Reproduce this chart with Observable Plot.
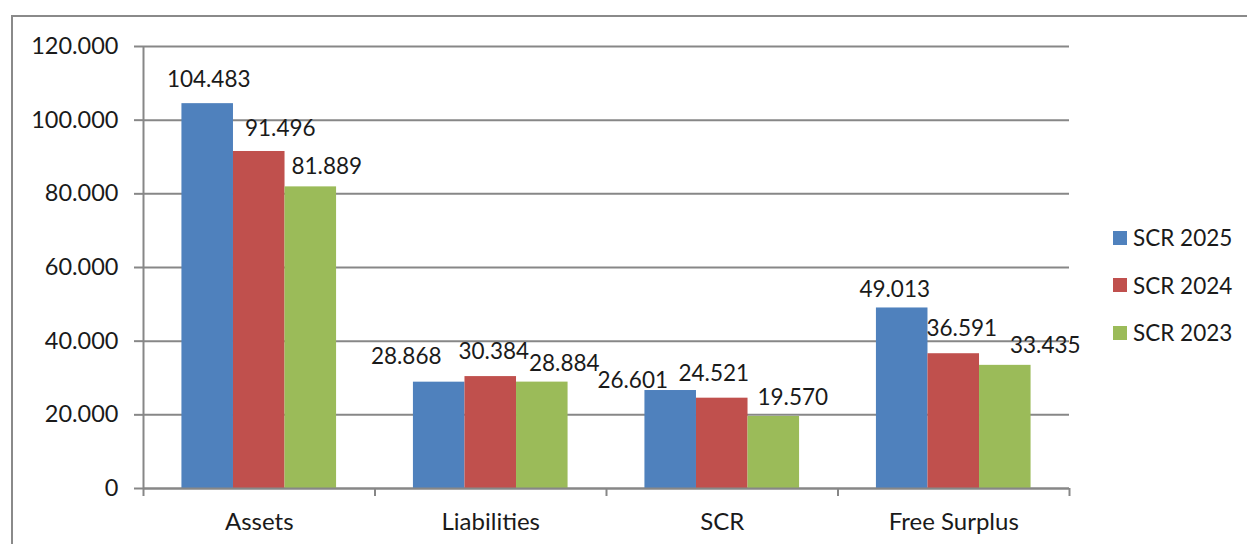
<!DOCTYPE html>
<html>
<head>
<meta charset="utf-8">
<script src="https://cdn.jsdelivr.net/npm/d3@7"></script>
<script src="https://cdn.jsdelivr.net/npm/@observablehq/plot@0.6"></script>
<style>
  html, body { margin: 0; padding: 0; background: #fff; overflow: hidden; }
  #wrap { position: relative; width: 1247px; height: 544px; font-family: Lato, sans-serif; }
  #border { position: absolute; left: 11px; top: 15px; width: 1300px; height: 700px; border: 2px solid #8a8a8a; box-sizing: border-box; }
  #chart { position: absolute; left: 0; top: 0; }
  #legend { position: absolute; left: 1113px; top: 214px; }
  .item { display: flex; align-items: center; height: 47.5px; font-size: 22.5px; color: #1a1a1a; }
  .sw { width: 14px; height: 14px; margin-right: 6px; }
</style>
</head>
<body>
<div id="wrap">
  <div id="border"></div>
  <div id="chart"></div>
  <div id="legend"></div>
</div>
<script>
// ---- data ----
const categories = ["Assets", "Liabilities", "SCR", "Free Surplus"];
const series = ["SCR 2025", "SCR 2024", "SCR 2023"];
const scr2025 = [104483, 28868, 26601, 49013];
const scr2024 = [91496, 30384, 24521, 36591];
const scr2023 = [81889, 28884, 19570, 33435];
const yTicks = [0, 20000, 40000, 60000, 80000, 100000, 120000];

// ---- style ----
const colors = ["#4F81BD", "#C0504D", "#9BBB59"];
const gridColor = "#878787";
const textColor = "#1a1a1a";
const groupPad = 0.166;                 // inner padding of each category band
const barW = (1 - 2 * groupPad) / 3;
// label nudges (pixels): [dx, gap above bar top]
const nudges = [
  [[1, 17], [-33, 18], [-38, 2.5], [-7.5, 11]],
  [[21, 15], [3, 18], [-8.5, 17], [8, 18]],
  [[16, 13], [22, 11], [19, 11], [40, 12]]
];

const fmt = d3.formatLocale({decimal: ",", thousands: ".", grouping: [3], currency: ["", "€"]}).format(",d");

const valuesBySeries = [scr2025, scr2024, scr2023];
const rows = [];
series.forEach((s, si) => categories.forEach((c, ci) => {
  rows.push({category: c, ci, series: s, si, value: valuesBySeries[si][ci]});
}));

const labelMarks = rows.map(r => Plot.text([r], {
  x: d => d.ci + groupPad + (d.si + 0.5) * barW,
  y: "value",
  text: d => fmt(d.value),
  lineAnchor: "bottom",
  dx: nudges[r.si][r.ci][0],
  dy: -nudges[r.si][r.ci][1],
  fontSize: 22.5,
  fill: textColor
}));

const chart = Plot.plot({
  width: 1247,
  height: 544,
  marginLeft: 143,
  marginRight: 178,
  marginTop: 46,
  marginBottom: 56,
  style: {fontFamily: "Lato, sans-serif", color: textColor, background: "transparent", overflow: "visible"},
  x: {domain: [0, categories.length]},
  y: {domain: [0, 120000]},
  color: {domain: series, range: colors},
  marks: [
    Plot.gridY({ticks: yTicks, stroke: gridColor, strokeOpacity: 1, strokeWidth: 2}),
    Plot.axisY({ticks: yTicks, tickFormat: fmt, tickSize: 9, tickPadding: 16, stroke: gridColor, strokeWidth: 2, fontSize: 23.5, fill: textColor, label: null}),
    Plot.rectY(rows, {
      x1: d => d.ci + groupPad + d.si * barW,
      x2: d => d.ci + groupPad + (d.si + 1) * barW,
      y: "value",
      fill: "series"
    }),
    Plot.ruleX([0], {stroke: gridColor, strokeWidth: 2}),
    Plot.ruleY([0], {stroke: gridColor, strokeWidth: 2}),
    Plot.axisX({ticks: d3.range(categories.length + 1), tickFormat: () => "", tickSize: 8, stroke: gridColor, strokeWidth: 2, label: null}),
    Plot.axisX({ticks: categories.map((c, i) => i + 0.5), tickFormat: d => categories[Math.floor(d)], tickSize: 0, tickPadding: 24, fontSize: 24, fill: textColor, label: null}),
    ...labelMarks
  ]
});
document.getElementById("chart").appendChild(chart);

// legend (colors from the same color scale)
const legend = document.getElementById("legend");
const cs = chart.scale("color");
series.forEach(s => {
  const item = document.createElement("div");
  item.className = "item";
  const sw = document.createElement("span");
  sw.className = "sw";
  sw.style.background = cs.apply(s);
  const t = document.createElement("span");
  t.textContent = s;
  item.appendChild(sw);
  item.appendChild(t);
  legend.appendChild(item);
});
</script>
</body>
</html>
